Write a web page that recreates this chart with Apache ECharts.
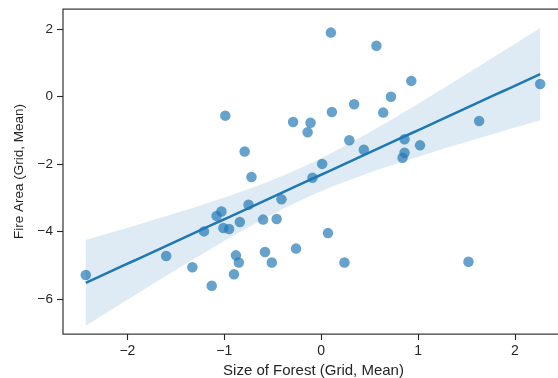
<!DOCTYPE html>
<html>
<head>
<meta charset="utf-8">
<script src="https://cdn.jsdelivr.net/npm/echarts@6/dist/echarts.min.js"></script>
<style>
  html, body { margin: 0; padding: 0; background: #fff; }
  #chart { width: 558px; height: 378px; }
</style>
</head>
<body>
<div id="chart"></div>
<script>
// size of forest (x) and fire area (y), grid means
const forestSize = [
  0.10, 0.57, 0.93, 0.72, 0.34, 0.64, 0.11, 2.26, 1.63, -0.99,
  -0.29, -0.11, -0.14, 0.29, -0.79, 0.01, -0.72, -0.09, -0.41, -0.75,
  -1.03, -1.08, -1.01, -0.95, -0.84, -0.60, -0.46, -1.21, 0.07, -0.88,
  -0.85, -0.58, -0.26, -0.51, 0.24, -0.90, -1.13, -2.43, -1.60, -1.33,
  0.44, 0.86, 1.02, 0.86, 0.84, 1.52
];
const fireArea = [
  1.90, 1.51, 0.47, 0.00, -0.22, -0.47, -0.45, 0.38, -0.72, -0.56,
  -0.75, -0.77, -1.05, -1.29, -1.62, -1.99, -2.38, -2.40, -3.04, -3.20,
  -3.40, -3.53, -3.89, -3.92, -3.71, -3.64, -3.62, -3.99, -4.04, -4.70,
  -4.91, -4.60, -4.50, -4.91, -4.91, -5.26, -5.60, -5.28, -4.72, -5.05,
  -1.57, -1.26, -1.44, -1.66, -1.81, -4.89
];
const xTicks = [-2, -1, 0, 1, 2];
const yTicks = [-6, -4, -2, 0, 2];

// least squares fit with 95% confidence band
const n = forestSize.length;
const mx = forestSize.reduce((a, b) => a + b, 0) / n;
const my = fireArea.reduce((a, b) => a + b, 0) / n;
let sxx = 0, sxy = 0;
for (let i = 0; i < n; i++) {
  sxx += (forestSize[i] - mx) ** 2;
  sxy += (forestSize[i] - mx) * (fireArea[i] - my);
}
const slope = sxy / sxx;
const icpt = my - slope * mx;
let sse = 0;
for (let i = 0; i < n; i++) sse += (fireArea[i] - icpt - slope * forestSize[i]) ** 2;
const se = Math.sqrt(sse / (n - 2));
const tval = 2.015;

const xLo = Math.min(...forestSize), xHi = Math.max(...forestSize);
const fitX = [];
for (let k = 0; k <= 60; k++) fitX.push(xLo + (xHi - xLo) * k / 60);
const fitY = fitX.map(x => icpt + slope * x);
const halfW = fitX.map(x => tval * se * Math.sqrt(1 / n + (x - mx) ** 2 / sxx));

const points = forestSize.map((x, i) => [x, fireArea[i]]);
const line = fitX.map((x, i) => [x, fitY[i]]);

const minus = v => String(v).replace('-', '\u2212');
const ink = '#262626';

const chart = echarts.init(document.getElementById('chart'), null, { renderer: 'canvas' });
chart.setOption({
  animation: false,
  textStyle: { fontFamily: 'Liberation Sans, Arial, sans-serif' },
  grid: {
    left: 63, top: 9, width: 501, height: 325,
    outerBoundsMode: 'none', containLabel: false,
    show: true, borderColor: '#3a3a3a', borderWidth: 1.25, backgroundColor: '#fff'
  },
  xAxis: {
    type: 'value', min: -2.665, max: 2.506,
    name: 'Size of Forest (Grid, Mean)', nameLocation: 'middle', nameGap: 28,
    nameTextStyle: { color: ink, fontSize: 15 },
    axisLine: { show: false, onZero: false },
    axisTick: { show: true, length: 6, customValues: xTicks, lineStyle: { color: ink, width: 1.1 } },
    axisLabel: { customValues: xTicks, color: ink, fontSize: 14, margin: 10, formatter: minus },
    splitLine: { show: false }
  },
  yAxis: {
    type: 'value', min: -7.03, max: 2.60,
    name: 'Fire Area (Grid, Mean)', nameLocation: 'middle', nameGap: 36,
    nameTextStyle: { color: ink, fontSize: 13.5 },
    axisLine: { show: false, onZero: false },
    axisTick: { show: true, length: 6, customValues: yTicks, lineStyle: { color: ink, width: 1.1 } },
    axisLabel: { customValues: yTicks, color: ink, fontSize: 13.5, margin: 10, formatter: minus },
    splitLine: { show: false }
  },
  series: [
    {
      type: 'scatter',
      data: points,
      symbolSize: 10.5,
      itemStyle: { color: 'rgba(31,119,180,0.85)' },
      z: 2
    },
    {
      type: 'custom',
      data: [0],
      z: 3,
      renderItem: (params, api) => {
        const upper = fitX.map((x, i) => api.coord([x, fitY[i] + halfW[i]]));
        const lower = fitX.map((x, i) => api.coord([x, fitY[i] - halfW[i]])).reverse();
        return {
          type: 'polygon',
          shape: { points: upper.concat(lower) },
          style: { fill: 'rgba(31,119,180,0.15)' }
        };
      }
    },
    {
      type: 'line',
      data: line,
      showSymbol: false,
      lineStyle: { color: '#1f77b4', width: 2.5 },
      z: 4
    }
  ]
});
</script>
</body>
</html>
